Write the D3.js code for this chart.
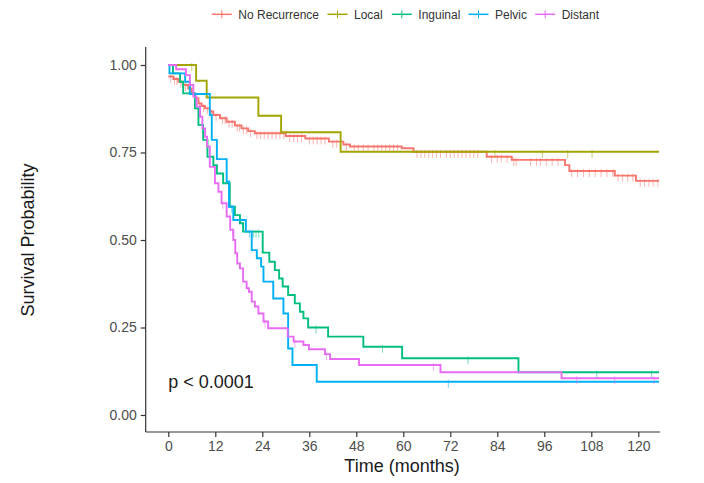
<!DOCTYPE html>
<html>
<head>
<meta charset="utf-8">
<script src="https://cdn.jsdelivr.net/npm/d3@7"></script>
<style>
  body { margin: 0; background: #fff; }
  svg { font-family: "Liberation Sans", Arial, sans-serif; }
</style>
</head>
<body>
<div id="chart"></div>
<script>
// groups, in legend / draw order
const groups = ["No Recurrence", "Local", "Inguinal", "Pelvic", "Distant"];
const colors = ["#F8766D", "#A3A500", "#00BF7D", "#00B0F6", "#E76BF3"];

// step curves: time (months) where a step starts and survival from that time on
const noRecTime = [0, 1.3, 2.6, 3.8, 5.1, 6, 6.8, 7.7, 8.5, 9.4, 10.6, 11.5, 13.2, 14.9, 17, 18.7, 20.4, 22.1, 30, 35, 41, 44.7, 46.4, 59.6, 62.6, 81.3, 87.7, 101.3, 102.4, 114, 119.4];
const noRecSurv = [0.967, 0.96, 0.952, 0.943, 0.933, 0.919, 0.905, 0.89, 0.883, 0.876, 0.867, 0.857, 0.848, 0.838, 0.827, 0.819, 0.811, 0.805, 0.797, 0.79, 0.781, 0.773, 0.767, 0.762, 0.752, 0.738, 0.729, 0.714, 0.697, 0.684, 0.669];
const noRecCensor = [0.6, 1.6, 2.2, 3.2, 4.4, 5.6, 7.2, 8, 9, 10, 11, 12.2, 13.8, 14.5, 15.5, 16.3, 17.6, 18.2, 19.2, 20, 21, 22.6, 23.5, 24.5, 25.5, 26.5, 27.5, 28.5, 29.5, 31, 32, 33, 34, 36, 37, 38, 39, 40, 42, 43, 45.5, 47.5, 48.5, 49.8, 51, 52.5, 53.5, 54.5, 55.5, 56.5, 57.5, 58.5, 63.5, 64.5, 65.5, 66.5, 67.5, 68.5, 69.5, 71, 72, 73, 74, 75, 76, 77, 78, 79, 82.5, 84, 85, 86.5, 88.2, 88.8, 92.5, 94, 95, 96.5, 98, 99.5, 103, 104.5, 106, 107.5, 109, 110.5, 112, 113.5, 114.8, 116, 117.3, 118.6, 120.5, 121.6, 122.7, 123.8, 125];

const localTime = [0, 7.1, 9.8, 23, 28.8, 44];
const localSurv = [1, 0.955, 0.907, 0.855, 0.808, 0.752];
const localCensor = [6, 83.4, 95.5, 102, 108.2];

const inguinalTime = [0, 1.2, 3, 3.8, 6.8, 7.7, 8.9, 10, 11.5, 12.4, 14, 15.7, 17, 18.3, 19.1, 24.1, 25.8, 27.2, 28.3, 29.2, 30.6, 32.3, 33.6, 34.5, 35.7, 40.8, 49.8, 59.7, 89.4];
const inguinalSurv = [1, 0.976, 0.952, 0.919, 0.876, 0.829, 0.786, 0.738, 0.714, 0.69, 0.662, 0.595, 0.571, 0.548, 0.524, 0.464, 0.438, 0.414, 0.39, 0.367, 0.343, 0.319, 0.295, 0.276, 0.25, 0.224, 0.195, 0.162, 0.122];
const inguinalCensor = [21.7, 22.4, 23.1, 37.7, 54.7, 76.5, 109.4, 123.4];

const pelvicTime = [0, 0.3, 4.3, 5.5, 10.6, 11.1, 12.4, 14.9, 15.5, 16.6, 19.8, 21.3, 22.6, 23.7, 24.3, 26.8, 29.4, 30.6, 31.7, 37.9];
const pelvicSurv = [1, 0.976, 0.952, 0.917, 0.857, 0.786, 0.731, 0.667, 0.595, 0.557, 0.524, 0.471, 0.448, 0.424, 0.381, 0.333, 0.29, 0.19, 0.143, 0.095];
const pelvicCensor = [16.2, 20.7, 71.5];

const distantTime = [0, 2, 4.5, 5.5, 6.4, 7.2, 8.1, 8.7, 9.4, 9.9, 10.6, 11.9, 12.8, 13.6, 14.9, 15.8, 16.6, 17.1, 17.6, 18.3, 19.1, 20, 20.6, 21.3, 22.1, 23, 24.3, 25.5, 30.5, 32, 34.5, 35.9, 40, 41.3, 48.7, 69.5, 100.4];
const distantSurv = [1, 0.988, 0.971, 0.943, 0.91, 0.881, 0.852, 0.819, 0.795, 0.767, 0.709, 0.662, 0.638, 0.605, 0.567, 0.529, 0.5, 0.462, 0.433, 0.419, 0.381, 0.362, 0.352, 0.324, 0.31, 0.29, 0.267, 0.248, 0.224, 0.21, 0.2, 0.188, 0.174, 0.16, 0.143, 0.122, 0.105];
const distantCensor = [13.9, 16.4, 24.7, 32.3, 40.4, 67.7, 104.3, 114, 124];

const endTime = 125.3;
const xTicks = [0, 12, 24, 36, 48, 60, 72, 84, 96, 108, 120];
const yTicks = [0, 0.25, 0.5, 0.75, 1];
const pText = "p < 0.0001";

const series = [
  { time: noRecTime, surv: noRecSurv, censor: noRecCensor },
  { time: localTime, surv: localSurv, censor: localCensor },
  { time: inguinalTime, surv: inguinalSurv, censor: inguinalCensor },
  { time: pelvicTime, surv: pelvicSurv, censor: pelvicCensor },
  { time: distantTime, surv: distantSurv, censor: distantCensor }
];

const width = 704, height = 483;
const panel = { left: 145.7, right: 660, top: 47, bottom: 432 };

const svg = d3.select("#chart").append("svg")
  .attr("width", width)
  .attr("height", height);

const x = d3.scaleLinear().domain([0, 120]).range([168.3, 638.3]);
const y = d3.scaleLinear().domain([0, 1]).range([415, 65]);

// y axis
const yAxis = svg.append("g")
  .attr("transform", `translate(${panel.left},0)`)
  .call(d3.axisLeft(y).tickValues(yTicks).tickFormat(d3.format(".2f")).tickSize(5).tickPadding(4));
yAxis.select(".domain").attr("d", `M0,${panel.top}V${panel.bottom}`);

// x axis
const xAxis = svg.append("g")
  .attr("transform", `translate(0,${panel.bottom})`)
  .call(d3.axisBottom(x).tickValues(xTicks).tickSize(5).tickPadding(4));
xAxis.select(".domain").attr("d", `M${panel.left},0H${panel.right}`);

svg.selectAll(".domain, .tick line")
  .attr("stroke", "#333")
  .attr("stroke-width", 1.2);
svg.selectAll(".tick text")
  .attr("fill", "#4d4d4d")
  .style("font-size", "14px");

// curves
const line = d3.line()
  .x(d => x(d[0]))
  .y(d => y(d[1]))
  .curve(d3.curveStepAfter);

function survAt(s, t) {
  const i = d3.bisectRight(s.time, t) - 1;
  return s.surv[Math.max(i, 0)];
}

series.forEach((s, k) => {
  const pts = s.time.map((t, i) => [t, s.surv[i]]);
  pts.push([endTime, s.surv[s.surv.length - 1]]);
  const g = svg.append("g");
  g.append("path")
    .datum(pts)
    .attr("fill", "none")
    .attr("stroke", colors[k])
    .attr("stroke-width", 1.9)
    .attr("d", line);
  g.selectAll("line.censor")
    .data(s.censor)
    .join("line")
    .attr("class", "censor")
    .attr("x1", d => x(d))
    .attr("x2", d => x(d))
    .attr("y1", d => y(survAt(s, d)) - 2)
    .attr("y2", d => y(survAt(s, d)) + 6)
    .attr("stroke", colors[k])
    .attr("stroke-opacity", 0.55)
    .attr("stroke-width", 1);
});

// p value
svg.append("text")
  .attr("x", x(0))
  .attr("y", 388)
  .style("font-size", "18px")
  .attr("fill", "#1a1a1a")
  .text(pText);

// axis titles
svg.append("text")
  .attr("x", 402)
  .attr("y", 472)
  .attr("text-anchor", "middle")
  .style("font-size", "18px")
  .attr("fill", "#1a1a1a")
  .text("Time (months)");

svg.append("text")
  .attr("transform", "translate(34,240) rotate(-90)")
  .attr("text-anchor", "middle")
  .style("font-size", "18px")
  .attr("fill", "#1a1a1a")
  .text("Survival Probability");

// legend
const legendX = [211.8, 327.5, 391.8, 468.5, 535.2];
const legend = svg.append("g");
groups.forEach((name, k) => {
  const g = legend.append("g").attr("transform", `translate(${legendX[k]},14.3)`);
  g.append("line")
    .attr("x1", 0).attr("x2", 20)
    .attr("stroke", colors[k]).attr("stroke-width", 1.5);
  g.append("line")
    .attr("x1", 10).attr("x2", 10).attr("y1", -4).attr("y2", 4)
    .attr("stroke", colors[k]).attr("stroke-width", 1);
  g.append("text")
    .attr("x", 26.5)
    .attr("dy", "0.35em")
    .style("font-size", "12px")
    .attr("fill", "#333")
    .text(name);
});
</script>
</body>
</html>
